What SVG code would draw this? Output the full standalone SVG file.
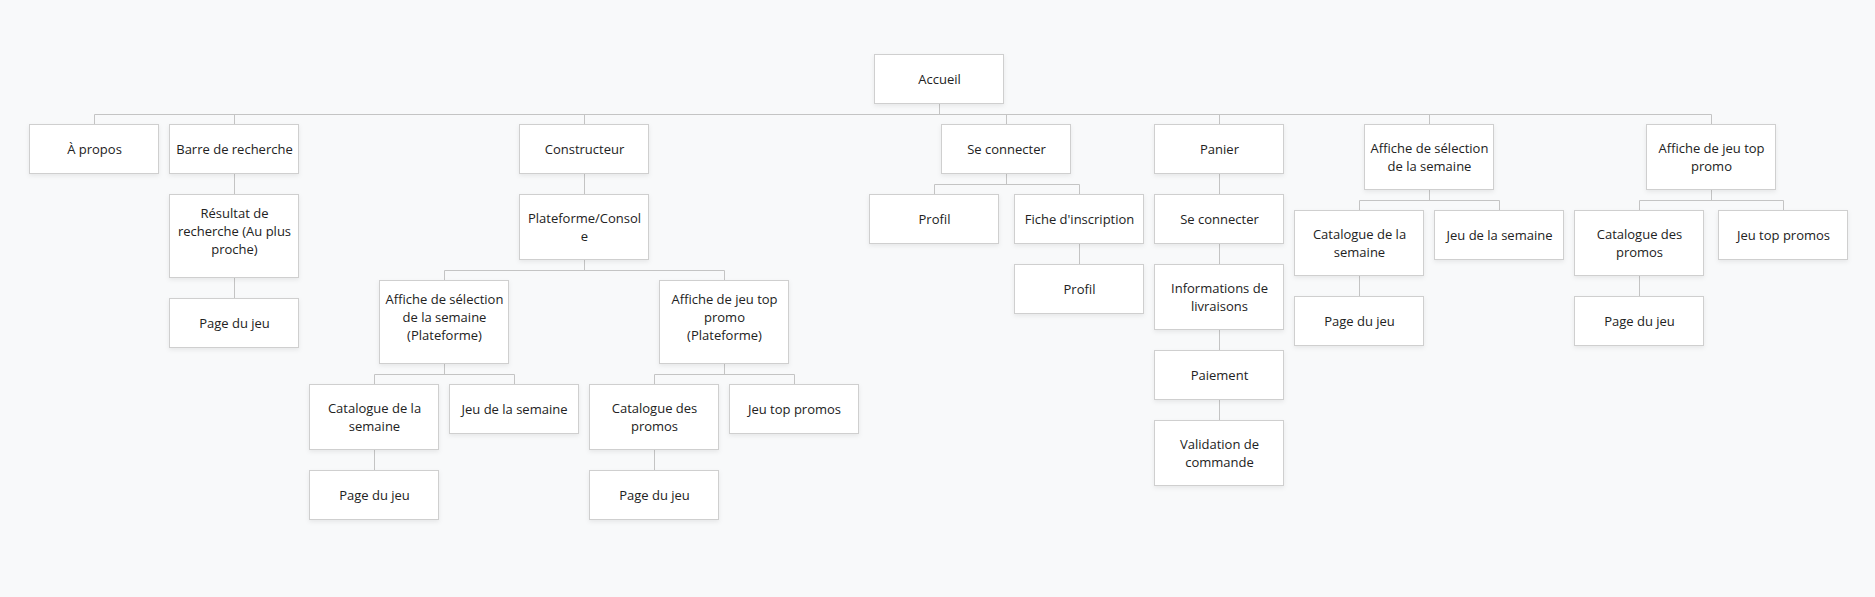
<svg xmlns="http://www.w3.org/2000/svg" width="1875" height="597" viewBox="0 0 1875 597">
<style>
.bg{fill:#f8f9fa}
.box{fill:#ffffff;stroke:#cfcfcf;stroke-width:1;filter:url(#sh)}
.lbl{font-family:"Open Sans","Noto Sans","DejaVu Sans",sans-serif;font-size:13px;fill:#222222;text-anchor:middle}
.con{fill:none;stroke:#c4c4c4;stroke-width:1}
</style>
<defs>
<filter id="sh" x="-10%" y="-10%" width="120%" height="130%">
<feDropShadow dx="0" dy="2" stdDeviation="2" flood-color="#000" flood-opacity="0.07"/>
</filter>
</defs>
<rect class="bg" x="0" y="0" width="1875" height="597"/>
<g id="connectors">
<path class="con" d="M939.5 103V114.5M94.5 114.5H1711.5M94.5 114.5V124M234.5 114.5V124M584.5 114.5V124M1006.5 114.5V124M1219.5 114.5V124M1429.5 114.5V124M1711.5 114.5V124"/>
<path class="con" d="M234.5 173V194M234.5 277V298"/>
<path class="con" d="M584.5 173V194M584.5 259V270.5M444.5 270.5H724.5M444.5 270.5V280M724.5 270.5V280"/>
<path class="con" d="M444.5 363V374.5M374.5 374.5H514.5M374.5 374.5V384M514.5 374.5V384M374.5 449V470"/>
<path class="con" d="M724.5 363V374.5M654.5 374.5H794.5M654.5 374.5V384M794.5 374.5V384M654.5 449V470"/>
<path class="con" d="M1006.5 173V184.5M934.5 184.5H1079.5M934.5 184.5V194M1079.5 184.5V194M1079.5 243V264"/>
<path class="con" d="M1219.5 173V194M1219.5 243V264M1219.5 329V350M1219.5 399V420"/>
<path class="con" d="M1429.5 189V200.5M1359.5 200.5H1499.5M1359.5 200.5V210M1499.5 200.5V210M1359.5 275V296"/>
<path class="con" d="M1711.5 189V200.5M1639.5 200.5H1783.5M1639.5 200.5V210M1783.5 200.5V210M1639.5 275V296"/>
</g>
<g id="n-accueil"><rect class="box" x="874.5" y="54.5" width="129" height="49"/><text class="lbl" x="939.5" y="84">Accueil</text></g>
<g id="n-apropos"><rect class="box" x="29.5" y="124.5" width="129" height="49"/><text class="lbl" x="94.5" y="154">À propos</text></g>
<g id="n-barre"><rect class="box" x="169.5" y="124.5" width="129" height="49"/><text class="lbl" x="234.5" y="154">Barre de recherche</text></g>
<g id="n-resultat"><rect class="box" x="169.5" y="194.5" width="129" height="83"/><text class="lbl" x="234.5" y="218">Résultat de</text><text class="lbl" x="234.5" y="236">recherche (Au plus</text><text class="lbl" x="234.5" y="254">proche)</text></g>
<g id="n-page1"><rect class="box" x="169.5" y="298.5" width="129" height="49"/><text class="lbl" x="234.5" y="328">Page du jeu</text></g>
<g id="n-constructeur"><rect class="box" x="519.5" y="124.5" width="129" height="49"/><text class="lbl" x="584.5" y="154">Constructeur</text></g>
<g id="n-plateforme"><rect class="box" x="519.5" y="194.5" width="129" height="65"/><text class="lbl" x="584.5" y="223">Plateforme/Consol</text><text class="lbl" x="584.5" y="241">e</text></g>
<g id="n-affsel-plat"><rect class="box" x="379.5" y="280.5" width="129" height="83"/><text class="lbl" x="444.5" y="304">Affiche de sélection</text><text class="lbl" x="444.5" y="322">de la semaine</text><text class="lbl" x="444.5" y="340">(Plateforme)</text></g>
<g id="n-afftop-plat"><rect class="box" x="659.5" y="280.5" width="129" height="83"/><text class="lbl" x="724.5" y="304">Affiche de jeu top</text><text class="lbl" x="724.5" y="322">promo</text><text class="lbl" x="724.5" y="340">(Plateforme)</text></g>
<g id="n-catsem-plat"><rect class="box" x="309.5" y="384.5" width="129" height="65"/><text class="lbl" x="374.5" y="413">Catalogue de la</text><text class="lbl" x="374.5" y="431">semaine</text></g>
<g id="n-jeusem-plat"><rect class="box" x="449.5" y="384.5" width="129" height="49"/><text class="lbl" x="514.5" y="414">Jeu de la semaine</text></g>
<g id="n-page-plat1"><rect class="box" x="309.5" y="470.5" width="129" height="49"/><text class="lbl" x="374.5" y="500">Page du jeu</text></g>
<g id="n-catpro-plat"><rect class="box" x="589.5" y="384.5" width="129" height="65"/><text class="lbl" x="654.5" y="413">Catalogue des</text><text class="lbl" x="654.5" y="431">promos</text></g>
<g id="n-jeutop-plat"><rect class="box" x="729.5" y="384.5" width="129" height="49"/><text class="lbl" x="794.5" y="414">Jeu top promos</text></g>
<g id="n-page-plat2"><rect class="box" x="589.5" y="470.5" width="129" height="49"/><text class="lbl" x="654.5" y="500">Page du jeu</text></g>
<g id="n-seconnecter"><rect class="box" x="941.5" y="124.5" width="129" height="49"/><text class="lbl" x="1006.5" y="154">Se connecter</text></g>
<g id="n-profil1"><rect class="box" x="869.5" y="194.5" width="129" height="49"/><text class="lbl" x="934.5" y="224">Profil</text></g>
<g id="n-fiche"><rect class="box" x="1014.5" y="194.5" width="129" height="49"/><text class="lbl" x="1079.5" y="224">Fiche d'inscription</text></g>
<g id="n-profil2"><rect class="box" x="1014.5" y="264.5" width="129" height="49"/><text class="lbl" x="1079.5" y="294">Profil</text></g>
<g id="n-panier"><rect class="box" x="1154.5" y="124.5" width="129" height="49"/><text class="lbl" x="1219.5" y="154">Panier</text></g>
<g id="n-seconnecter2"><rect class="box" x="1154.5" y="194.5" width="129" height="49"/><text class="lbl" x="1219.5" y="224">Se connecter</text></g>
<g id="n-infos"><rect class="box" x="1154.5" y="264.5" width="129" height="65"/><text class="lbl" x="1219.5" y="293">Informations de</text><text class="lbl" x="1219.5" y="311">livraisons</text></g>
<g id="n-paiement"><rect class="box" x="1154.5" y="350.5" width="129" height="49"/><text class="lbl" x="1219.5" y="380">Paiement</text></g>
<g id="n-validation"><rect class="box" x="1154.5" y="420.5" width="129" height="65"/><text class="lbl" x="1219.5" y="449">Validation de</text><text class="lbl" x="1219.5" y="467">commande</text></g>
<g id="n-affsel"><rect class="box" x="1364.5" y="124.5" width="129" height="65"/><text class="lbl" x="1429.5" y="153">Affiche de sélection</text><text class="lbl" x="1429.5" y="171">de la semaine</text></g>
<g id="n-catsem"><rect class="box" x="1294.5" y="210.5" width="129" height="65"/><text class="lbl" x="1359.5" y="239">Catalogue de la</text><text class="lbl" x="1359.5" y="257">semaine</text></g>
<g id="n-jeusem"><rect class="box" x="1434.5" y="210.5" width="129" height="49"/><text class="lbl" x="1499.5" y="240">Jeu de la semaine</text></g>
<g id="n-page3"><rect class="box" x="1294.5" y="296.5" width="129" height="49"/><text class="lbl" x="1359.5" y="326">Page du jeu</text></g>
<g id="n-afftop"><rect class="box" x="1646.5" y="124.5" width="129" height="65"/><text class="lbl" x="1711.5" y="153">Affiche de jeu top</text><text class="lbl" x="1711.5" y="171">promo</text></g>
<g id="n-catpro"><rect class="box" x="1574.5" y="210.5" width="129" height="65"/><text class="lbl" x="1639.5" y="239">Catalogue des</text><text class="lbl" x="1639.5" y="257">promos</text></g>
<g id="n-jeutop"><rect class="box" x="1718.5" y="210.5" width="129" height="49"/><text class="lbl" x="1783.5" y="240">Jeu top promos</text></g>
<g id="n-page4"><rect class="box" x="1574.5" y="296.5" width="129" height="49"/><text class="lbl" x="1639.5" y="326">Page du jeu</text></g>
</svg>
